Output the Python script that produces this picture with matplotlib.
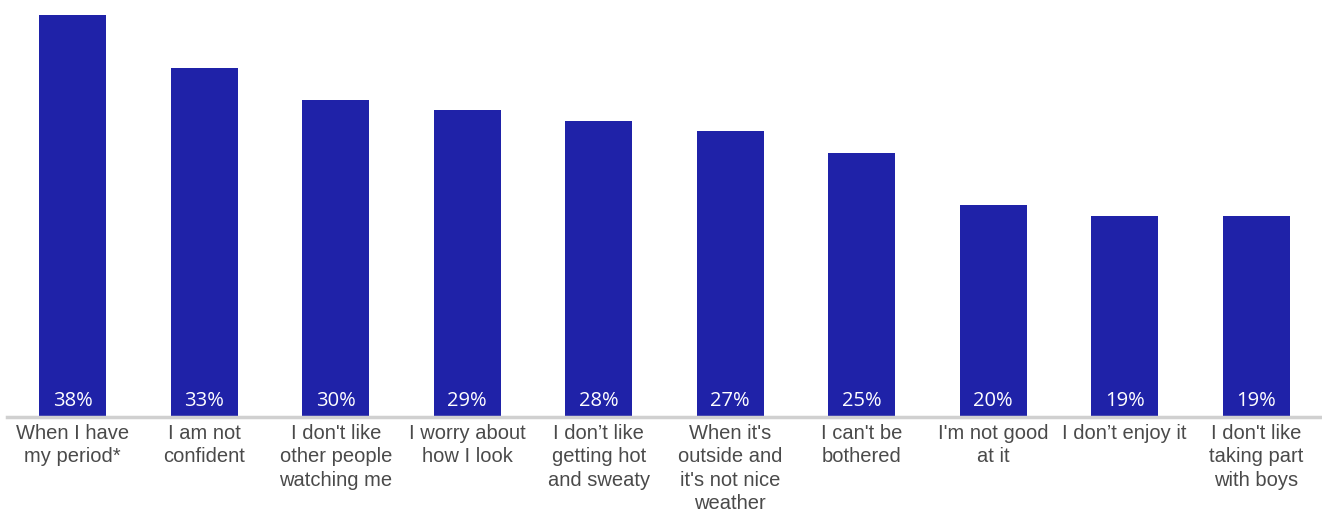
import matplotlib.pyplot as plt

categories = [
    "When I have\nmy period*",
    "I am not\nconfident",
    "I don't like\nother people\nwatching me",
    "I worry about\nhow I look",
    "I don\u2019t like\ngetting hot\nand sweaty",
    "When it's\noutside and\nit's not nice\nweather",
    "I can't be\nbothered",
    "I'm not good\nat it",
    "I don\u2019t enjoy it",
    "I don't like\ntaking part\nwith boys",
]
values = [38, 33, 30, 29, 28, 27, 25, 20, 19, 19]

bar_color = "#1F22A8"

fig = plt.figure(figsize=(13.22, 5.12), dpi=100)
ax = fig.add_axes([7 / 1322, 95 / 512, 1315 / 1322, 402 / 512])

x = range(len(categories))
bars = ax.bar(x, values, width=0.51, color=bar_color)

for xi, v in zip(x, values):
    ax.text(xi, 0.6, f"{v}%", ha="center", va="bottom", color="white",
            fontsize=14.5, family=["Open Sans", "DejaVu Sans"])

ax.set_xlim(-0.5, len(categories) - 0.5)
ax.set_ylim(0, 38)
ax.set_xticks(list(x))
ax.set_xticklabels(categories, fontsize=14.5, color="#4A4A4A",
                   family=["Liberation Sans", "DejaVu Sans"], linespacing=1.3)
ax.tick_params(axis="x", length=0, pad=5)
ax.set_yticks([])
for s in ["top", "right", "left"]:
    ax.spines[s].set_visible(False)
ax.spines["bottom"].set_color("#D0D0D0")
ax.spines["bottom"].set_linewidth(2.5)

fig.savefig("out.png", dpi=100)
